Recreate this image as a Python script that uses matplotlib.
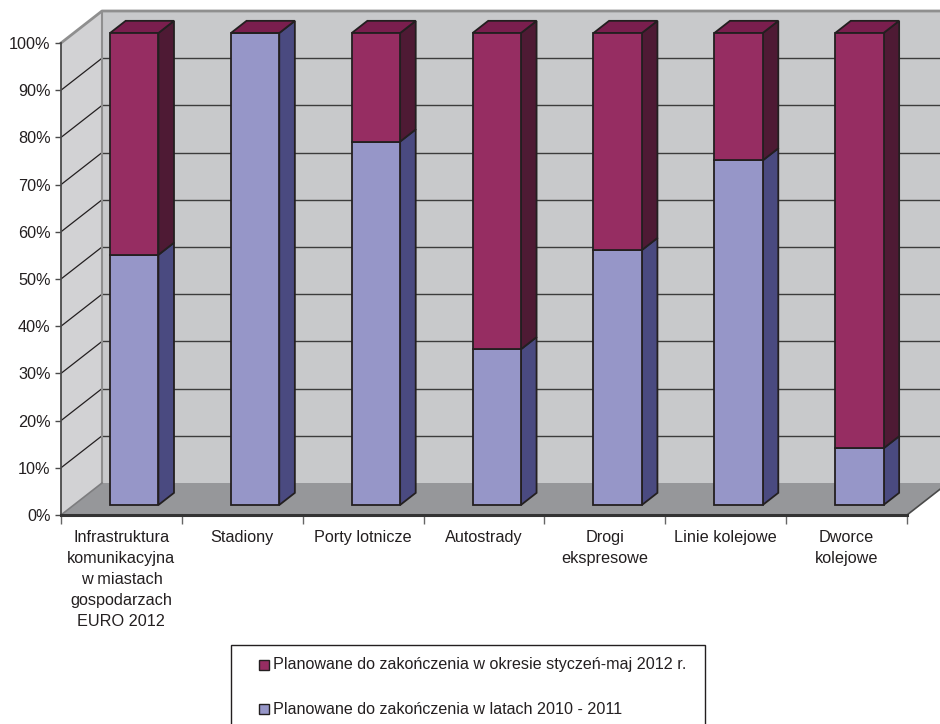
import matplotlib
matplotlib.use('Agg')
import matplotlib.pyplot as plt
from matplotlib.patches import Polygon, Rectangle

plt.rcParams['font.family'] = ['Liberation Sans', 'DejaVu Sans']

categories = [
    'Infrastruktura\nkomunikacyjna\nw miastach\ngospodarzach\nEURO 2012',
    'Stadiony',
    'Porty lotnicze',
    'Autostrady',
    'Drogi\nekspresowe',
    'Linie kolejowe',
    'Dworce\nkolejowe',
]
# share of investments, percent
planned_2010_2011 = [53, 100, 77, 33, 54, 73, 12]
planned_jan_may_2012 = [47, 0, 23, 67, 46, 27, 88]
series_names = [
    'Planowane do zakończenia w okresie styczeń-maj 2012 r.',
    'Planowane do zakończenia w latach 2010 - 2011',
]
yticks = list(range(0, 101, 10))

# colours: front face, side face, top face
BLUE = ('#9696c8', '#4a4a80', '#6a6aa8')
PLUM = ('#962d62', '#4e1a34', '#7a1e4e')
EDGE = '#231f20'
TXT = '#231f20'
FS = 11.7

W, H = 940, 724
n = len(categories)
# pixel geometry of the front plane and the depth offset
px_left, px_right = 61, 907
px_zero, px_full = 515, 43
ux = (px_right - px_left) / n
uy = (px_zero - px_full) / 100.0
DX = 41 / ux
DY = 32 / uy

fig = plt.figure(figsize=(W / 100, H / 100), dpi=100)
ax = fig.add_axes([px_left / W, (H - px_zero) / H,
                   (n + DX) * ux / W, (100 + DY) * uy / H])
ax.set_xlim(0, n + DX)
ax.set_ylim(0, 100 + DY)
for s in ax.spines.values():
    s.set_visible(False)
ax.patch.set_visible(False)

# walls and floor
back = Rectangle((DX, DY), n, 100, facecolor='#c8c9cb', edgecolor='none', zorder=0)
left = Polygon([(0, 0), (DX, DY), (DX, 100 + DY), (0, 100)], facecolor='#d2d2d4',
               edgecolor='none', zorder=0)
floor = Polygon([(0, 0), (n, 0), (n + DX, DY), (DX, DY)], facecolor='#96979a',
                edgecolor='none', zorder=0)
for p in (back, left, floor):
    ax.add_patch(p)

for v in yticks[1:-1]:
    ax.plot([DX, n + DX], [v + DY, v + DY], color='#3c3c3c', lw=1.0, zorder=1)
    ax.plot([0, DX], [v, v + DY], color='#231f20', lw=0.9, zorder=1)

border = '#8f8f8f'
ax.plot([0, DX, n + DX], [100, 100 + DY, 100 + DY], color=border, lw=2, zorder=1,
        clip_on=False)
ax.plot([DX, DX], [DY, 100 + DY], color=border, lw=1.5, zorder=1)
ax.plot([0, DX], [0, DY], color='#7d7d7f', lw=1.2, zorder=1)
ax.plot([n, n + DX], [0, DY], color='#4a4a4a', lw=1.2, zorder=1, clip_on=False)

# bars
f_front, f_depth, bw = 10 / 32, 0.38, 0.4
ox, oy = DX * f_front, DY * f_front
bdx, bdy = DX * f_depth, DY * f_depth
xc = [i + 0.5 + ox for i in range(n)]

ax.bar(xc, planned_2010_2011, width=bw, bottom=oy, color=BLUE[0],
       edgecolor=EDGE, linewidth=1.3, zorder=3)
ax.bar(xc, planned_jan_may_2012, width=bw,
       bottom=[oy + v for v in planned_2010_2011], color=PLUM[0],
       edgecolor=EDGE, linewidth=1.3, zorder=3)

for x, lo, hi in zip(xc, planned_2010_2011, planned_jan_may_2012):
    xl, xr = x - bw / 2, x + bw / 2
    for y0, y1, col in ((0, lo, BLUE), (lo, lo + hi, PLUM)):
        if y1 <= y0:
            continue
        ax.add_patch(Polygon([(xr, oy + y0), (xr + bdx, oy + y0 + bdy),
                              (xr + bdx, oy + y1 + bdy), (xr, oy + y1)],
                             facecolor=col[1], edgecolor=EDGE, lw=1.3, zorder=2))
    top = lo + hi
    ax.add_patch(Polygon([(xl, oy + top), (xl + bdx, oy + top + bdy),
                          (xr + bdx, oy + top + bdy), (xr, oy + top)],
                         facecolor=PLUM[2], edgecolor=EDGE, lw=1.3, zorder=2))

# axes lines
ax.plot([0, 0], [0, 100], color='#4a4a4a', lw=1.3, zorder=4, clip_on=False)
ax.plot([0, n], [0, 0], color='#333333', lw=2.2, zorder=4, clip_on=False)

ax.set_yticks(yticks)
ax.set_yticklabels([f'{v}%' for v in yticks])
ax.tick_params(axis='y', direction='out', length=4.5, width=1, color='#4a4a4a',
               pad=3, labelsize=FS, labelcolor=TXT)

ax.set_xticks(range(n + 1))
ax.set_xticklabels([])
ax.tick_params(axis='x', which='major', direction='out', length=6.5, width=1,
               color='#666666')
ax.set_xticks([i + 0.5 for i in range(n)], minor=True)
ax.set_xticklabels(categories, minor=True, fontsize=FS, color=TXT, linespacing=1.49)
ax.tick_params(axis='x', which='minor', length=0, pad=11)

# legend
fig.patches.append(Rectangle((231 / W, -0.05), (705 - 231) / W, 0.05 + (H - 645) / H,
                             transform=fig.transFigure, facecolor='white',
                             edgecolor=EDGE, lw=1.0, zorder=5))
for name, col, ypx in ((series_names[0], PLUM, 665), (series_names[1], BLUE, 709)):
    fig.patches.append(Rectangle((259 / W, (H - ypx - 5) / H), 10 / W, 10 / H,
                                 transform=fig.transFigure, facecolor=col[0],
                                 edgecolor=EDGE, lw=1.0, zorder=6))
    fig.text(273 / W, (H - ypx) / H, name, fontsize=11.6, color=TXT, va='center',
             ha='left', zorder=7)

fig.savefig('out.png', dpi=100)
